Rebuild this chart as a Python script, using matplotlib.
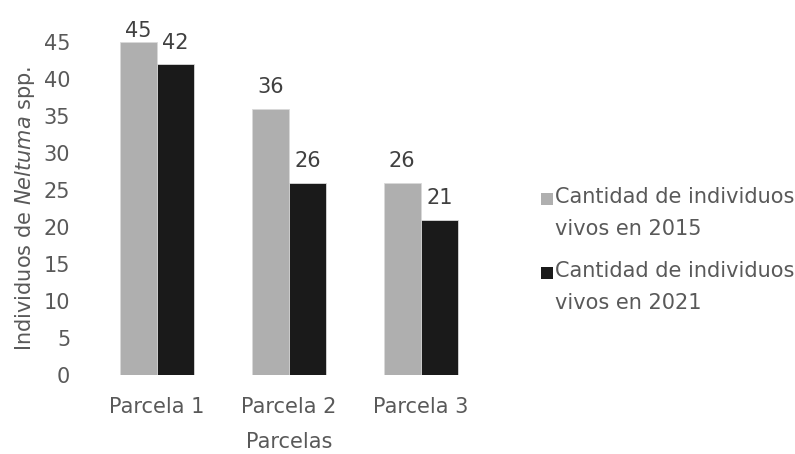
import numpy as np
import matplotlib
matplotlib.use('Agg')
import matplotlib.pyplot as plt
from matplotlib.patches import Rectangle

parcelas = ['Parcela 1', 'Parcela 2', 'Parcela 3']
vivos_2015 = [45, 36, 26]
vivos_2021 = [42, 26, 21]
series_names = ['Cantidad de individuos\nvivos en 2015', 'Cantidad de individuos\nvivos en 2021']
colors = ['#afafaf', '#1a1a1a']

plt.rcParams['font.family'] = ['DejaVu Sans']
plt.rcParams['mathtext.fontset'] = 'dejavusans'
fs = 15
txt = '#595959'

fig = plt.figure(figsize=(7.95, 4.54), dpi=100)
W, H = 795, 454
ax = fig.add_axes([91/W, 1 - 375/H, 396/W, 333/H])

x = np.arange(len(parcelas))
w = 0.284
b1 = ax.bar(x - w/2, vivos_2015, w, color=colors[0], edgecolor='#d9d9d9', linewidth=0.6)
b2 = ax.bar(x + w/2, vivos_2021, w, color=colors[1], edgecolor='#d9d9d9', linewidth=0.6)

ax.set_xlim(-0.5, 2.5)
ax.set_ylim(0, 45)

# value labels; the one touching the top of the plot area is squeezed down
for bars in (b1, b2):
    for r in bars:
        h = r.get_height()
        off = 8 if h < ax.get_ylim()[1] else 1
        ax.annotate(str(int(h)), xy=(r.get_x() + r.get_width()/2, h),
                    xytext=(0, off), textcoords='offset points', ha='center', va='bottom',
                    fontsize=fs, color='#404040')

ax.set_yticks(range(0, 46, 5))
ax.set_xticks(x)
ax.set_xticklabels(parcelas)
ax.tick_params(axis='both', length=0, labelsize=fs, labelcolor=txt)
ax.tick_params(axis='x', pad=16)
ax.tick_params(axis='y', pad=15)
for s in ax.spines.values():
    s.set_visible(False)

ax.set_xlabel('Parcelas', fontsize=fs, color=txt, labelpad=11)
ax.set_ylabel(r'Individuos de $\mathit{Neltuma}$ spp.', fontsize=fs, color=txt, labelpad=5)

# legend, drawn by hand so the square sits at the first text line
leg_y = [199, 273]
for c, name, yy in zip(colors, series_names, leg_y):
    fig.patches.append(Rectangle((541/W, 1 - (yy + 6)/H), 12/W, 12/H, transform=fig.transFigure,
                                 facecolor=c, edgecolor='none'))
    fig.text(555/W, 1 - (yy - 12)/H, name, fontsize=fs, color=txt, ha='left', va='top',
             linespacing=1.75)

fig.savefig('out.png', dpi=100)
